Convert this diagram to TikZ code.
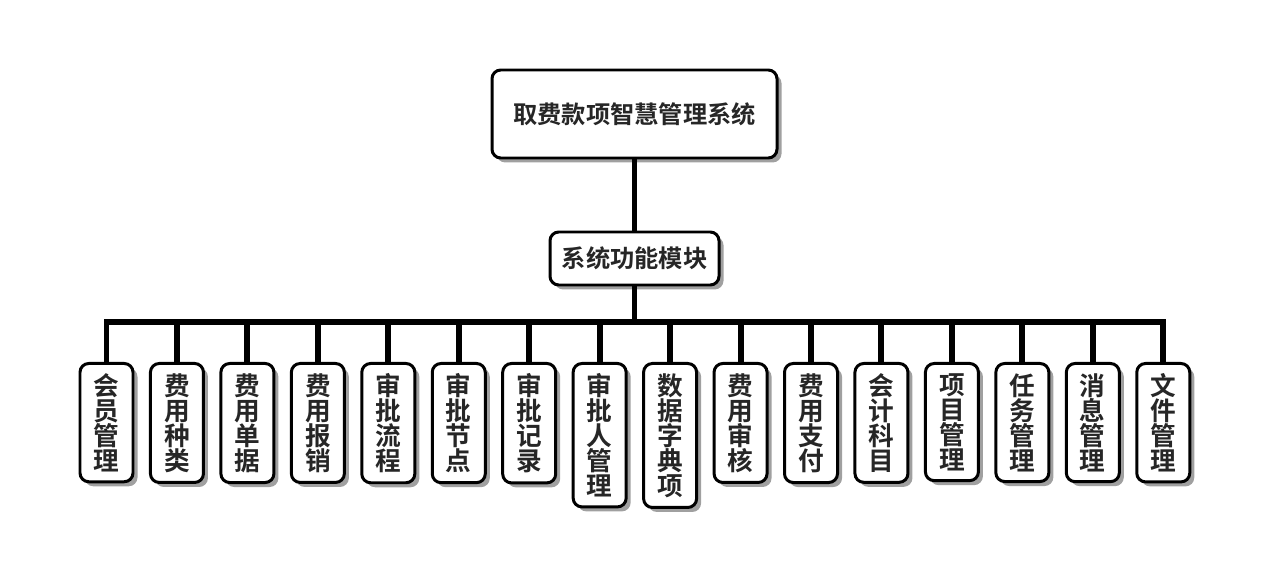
\documentclass[tikz,border=0pt]{standalone}
\usepackage{fontspec}
\newfontfamily\cjk{Noto Sans CJK SC}[BoldFont={Noto Sans CJK SC Bold}]
\usepackage{tikz}
\usetikzlibrary{shadows}

\tikzset{
  box/.style={draw=black, line width=1.7pt, rounded corners=5pt, fill=white,
    drop shadow={shadow xshift=0.09cm, shadow yshift=-0.09cm, fill=black!50, opacity=0.75},
    text=black!85, font=\cjk\bfseries\fontsize{13.8}{14}\selectfont},
  leaf/.style={box, anchor=north, minimum width=1.06cm, inner xsep=0pt, inner ysep=0.2cm,
    align=center, font=\cjk\bfseries\fontsize{14.6}{14.2}\selectfont},
  link/.style={line width=3.4pt}
}

\begin{document}
\begin{tikzpicture}
\useasboundingbox (0,0) rectangle (25.38,11.66);

% top levels
\node[box, minimum width=5.7cm, minimum height=1.76cm] (sys) at (12.69,9.38) {取费款项智慧管理系统};
\node[box, minimum width=3.38cm, minimum height=1.06cm] (mod) at (12.69,6.49) {系统功能模块};
\coordinate (bus) at (12.69,5.22);

% modules
\node[leaf] (m1) at (2.13,4.42) {会\\员\\管\\理};
\node[leaf] (m2) at (3.539,4.42) {费\\用\\种\\类};
\node[leaf] (m3) at (4.948,4.42) {费\\用\\单\\据};
\node[leaf] (m4) at (6.357,4.42) {费\\用\\报\\销};
\node[leaf] (m5) at (7.766,4.42) {审\\批\\流\\程};
\node[leaf] (m6) at (9.175,4.42) {审\\批\\节\\点};
\node[leaf] (m7) at (10.584,4.42) {审\\批\\记\\录};
\node[leaf] (m8) at (11.993,4.42) {审\\批\\人\\管\\理};
\node[leaf] (m9) at (13.402,4.42) {数\\据\\字\\典\\项};
\node[leaf] (m10) at (14.811,4.42) {费\\用\\审\\核};
\node[leaf] (m11) at (16.22,4.42) {费\\用\\支\\付};
\node[leaf] (m12) at (17.629,4.42) {会\\计\\科\\目};
\node[leaf] (m13) at (19.038,4.42) {项\\目\\管\\理};
\node[leaf] (m14) at (20.447,4.42) {任\\务\\管\\理};
\node[leaf] (m15) at (21.856,4.42) {消\\息\\管\\理};
\node[leaf] (m16) at (23.265,4.42) {文\\件\\管\\理};

% connectors
\draw[link] (sys) -- (mod);
\draw[link] (mod) -- (bus);
\draw[link] (m1.north) |- (bus) -| (m16.north);
\draw[link] (m2.north) |- (bus);
\draw[link] (m3.north) |- (bus);
\draw[link] (m4.north) |- (bus);
\draw[link] (m5.north) |- (bus);
\draw[link] (m6.north) |- (bus);
\draw[link] (m7.north) |- (bus);
\draw[link] (m8.north) |- (bus);
\draw[link] (m9.north) |- (bus);
\draw[link] (m10.north) |- (bus);
\draw[link] (m11.north) |- (bus);
\draw[link] (m12.north) |- (bus);
\draw[link] (m13.north) |- (bus);
\draw[link] (m14.north) |- (bus);
\draw[link] (m15.north) |- (bus);
\end{tikzpicture}
\end{document}
